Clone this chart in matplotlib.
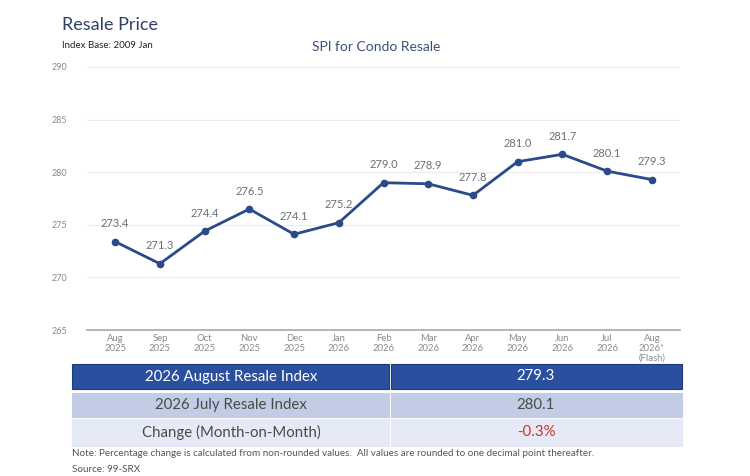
import matplotlib
matplotlib.use("Agg")
import matplotlib.pyplot as plt
from matplotlib.patches import Rectangle

plt.rcParams['font.family'] = ['Lato', 'DejaVu Sans']

months = ["Aug\n2025", "Sep\n2025", "Oct\n2025", "Nov\n2025", "Dec\n2025", "Jan\n2026",
          "Feb\n2026", "Mar\n2026", "Apr\n2026", "May\n2026", "Jun\n2026", "Jul\n2026",
          "Aug\n2026*\n(Flash)"]
spi = [273.4, 271.3, 274.4, 276.5, 274.1, 275.2, 279.0, 278.9, 277.8, 281.0, 281.7, 280.1, 279.3]
yticks = [265, 270, 275, 280, 285, 290]

table_labels = ["2026 August Resale Index", "2026 July Resale Index", "Change (Month-on-Month)"]
table_values = ["279.3", "280.1", "-0.3%"]

W, H = 750, 476
fig = plt.figure(figsize=(7.5, 4.76), dpi=100)

def fx(px):
    return px / W

def fy(py):
    return 1 - py / H

ax = fig.add_axes([fx(87), fy(330), fx(680) - fx(87), fy(67) - fy(330)])
x = list(range(len(spi)))
line_col = "#2b4a8a"
ax.plot(x, spi, color=line_col, lw=2, marker="o", ms=4.5, zorder=3)
for xi, v in zip(x, spi):
    ax.annotate(f"{v:.1f}", (xi, v), xytext=(0, 9), textcoords="offset points",
                ha="center", va="bottom", fontsize=8, color="#6b6f78")
ax.set_xlim(-0.63, len(spi) - 1 + 0.63)
ax.set_ylim(265, 290)
ax.set_yticks(yticks)
ax.set_xticks(x)
ax.set_xticklabels(months, fontsize=6.8, color="#8a8a8a", linespacing=1.1)
ax.tick_params(axis="y", labelsize=6.5, labelcolor="#8a8a8a", length=0, pad=14)
ax.tick_params(axis="x", length=0, pad=3)
ax.grid(axis="y", color="#ececec", lw=0.8)
for s in ["top", "right", "left"]:
    ax.spines[s].set_visible(False)
ax.spines["bottom"].set_color("#a8a8a8")
ax.spines["bottom"].set_linewidth(1.2)
ax.set_axisbelow(True)

fig.text(fx(62), fy(25), "Resale Price", fontsize=13, color="#2e4064", va="center", ha="left")
fig.text(fx(62), fy(46), "Index Base: 2009 Jan", fontsize=7, color="#222222", va="center", ha="left")
fig.text(fx(376), fy(47), "SPI for Condo Resale", fontsize=10, color="#3d5078", va="center", ha="center")

# table
rows = [(364, 389), (393, 417), (419, 446)]
fills = ["#2a4f9e", "#c2cce5", "#e5eaf6"]
txtcol = [["white", "white"], ["#4a4a4a", "#4a4a4a"], ["#4a4a4a", "#d0312d"]]
left, mid, right = 72, 390, 682
for (y0, y1), fc, tc, lab, val in zip(rows, fills, txtcol, table_labels, table_values):
    for (a, b) in [(left, mid - 1), (mid + 1, right)]:
        r = Rectangle((fx(a), fy(y1)), fx(b) - fx(a), fy(y0) - fy(y1), transform=fig.transFigure,
                      facecolor=fc, edgecolor="#1e3a78" if fc == "#2a4f9e" else fc, lw=0.8)
        fig.patches.append(r)
    yc = fy((y0 + y1) / 2)
    fig.text(fx((left + mid) / 2), yc, lab, fontsize=10.8, color=tc[0], ha="center", va="center")
    fig.text(fx((mid + right) / 2), yc, val, fontsize=10.8, color=tc[1], ha="center", va="center")

fig.text(fx(72), fy(453), "Note: Percentage change is calculated from non-rounded values.  All values are rounded to one decimal point thereafter.",
         fontsize=7.1, color="#555555", ha="left", va="center")
fig.text(fx(72), fy(469), "Source: 99-SRX", fontsize=7.1, color="#555555", ha="left", va="center")

fig.savefig("out.png", dpi=100, facecolor="white")
